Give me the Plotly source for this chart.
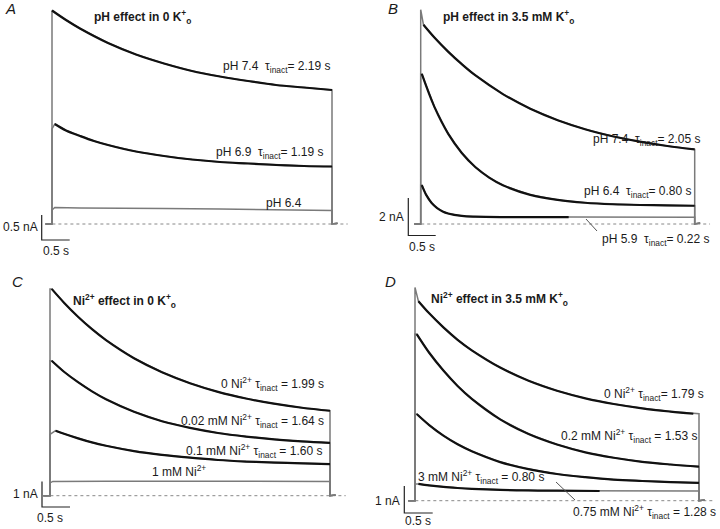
import plotly.graph_objects as go

# ---------------- data (time in s, current in nA) ----------------
SCALE_T = 0.5
SCALE_I = {"A": 0.5, "B": 2, "C": 1, "D": 1}

# Panel A: pH effect in 0 K+o
A_T74 = [0, 0.25, 0.5, 1, 1.5, 2, 2.5, 3, 3.5, 4, 4.5, 5]
A_I74 = [4.27, 4.08, 3.91, 3.62, 3.39, 3.21, 3.06, 2.95, 2.86, 2.78, 2.73, 2.68]
A_T69 = [0.05, 0.25, 0.5, 0.75, 1, 1.5, 2, 2.5, 3, 3.5, 4, 4.5, 5]
A_I69 = [2.0, 1.87, 1.76, 1.66, 1.58, 1.45, 1.36, 1.29, 1.24, 1.21, 1.18, 1.16, 1.15]
A_T64 = [0.05, 0.5, 1, 1.5, 2, 3, 4, 5]
A_I64 = [0.33, 0.32, 0.32, 0.31, 0.31, 0.30, 0.29, 0.27]

# Panel B: pH effect in 3.5 mM K+o
B_PEAK74 = 11.4
B_T74 = [0.05, 0.25, 0.5, 0.75, 1, 1.5, 2, 2.5, 3, 3.5, 4, 4.5, 5]
B_I74 = [10.6, 9.92, 9.17, 8.50, 7.90, 6.91, 6.13, 5.52, 5.04, 4.67, 4.38, 4.15, 3.97]
B_T64 = [0.02, 0.25, 0.5, 0.75, 1, 1.25, 1.5, 2, 2.5, 3, 3.5, 4, 4.5, 5]
B_I64 = [7.98, 6.23, 4.81, 3.78, 3.02, 2.47, 2.06, 1.55, 1.28, 1.13, 1.05, 1.01, 0.99, 0.97]
B_T59 = [0.02, 0.1, 0.2, 0.3, 0.4, 0.5, 0.75, 1, 1.5, 2, 2.7]
B_I59 = [2.07, 1.55, 1.12, 0.85, 0.67, 0.56, 0.43, 0.39, 0.37, 0.37, 0.37]
B_T59_TAIL = [3.5, 5]
B_I59_TAIL = [0.37, 0.36]

# Panel C: Ni2+ effect in 0 K+o
C_T = [0.03, 0.25, 0.5, 0.75, 1, 1.5, 2, 2.5, 3, 3.5, 4, 4.5, 5]
C_I0 = [8.11, 7.57, 7.02, 6.53, 6.10, 5.39, 4.84, 4.41, 4.07, 3.81, 3.61, 3.45, 3.33]
C_I002 = [5.29, 4.86, 4.45, 4.09, 3.78, 3.29, 2.92, 2.66, 2.46, 2.32, 2.21, 2.13, 2.07]
C_T01 = [0.1, 0.25, 0.5, 0.75, 1, 1.5, 2, 2.5, 3, 3.5, 4, 4.5, 5]
C_I01 = [2.55, 2.43, 2.25, 2.09, 1.96, 1.75, 1.60, 1.49, 1.40, 1.34, 1.30, 1.27, 1.24]
C_T1 = [0.05, 1, 2, 3, 4, 5]
C_I1 = [0.56, 0.57, 0.56, 0.56, 0.57, 0.56]

# Panel D: Ni2+ effect in 3.5 mM K+o
D_PEAK0 = 7.9
D_T0 = [0.06, 0.25, 0.5, 0.75, 1, 1.5, 2, 2.5, 3, 3.5, 4, 4.5, 4.9]
D_I0 = [7.39, 6.94, 6.42, 5.96, 5.57, 4.93, 4.44, 4.07, 3.79, 3.58, 3.42, 3.30, 3.22]
D_T = [0.03, 0.25, 0.5, 0.75, 1, 1.5, 2, 2.5, 3, 3.5, 4, 4.5, 5]
D_I02 = [6.17, 5.48, 4.82, 4.25, 3.77, 3.01, 2.47, 2.08, 1.79, 1.59, 1.44, 1.34, 1.26]
D_I075 = [3.21, 2.80, 2.41, 2.09, 1.83, 1.43, 1.17, 0.99, 0.87, 0.78, 0.73, 0.69, 0.66]
D_T3 = [0.06, 0.25, 0.5, 0.75, 1, 1.5, 2, 2.5, 3.25]
D_I3 = [0.62, 0.565, 0.51, 0.47, 0.44, 0.40, 0.38, 0.37, 0.36]
D_T3_TAIL = [4, 5]
D_I3_TAIL = [0.36, 0.36]

# ---------------- layout geometry (pixels) ----------------
W, H = 720, 529
GEOM = {
    "A": dict(t0=52, pps=56, base=224, ppn=50, reg=(0, 360, 0, 264), bar=(41.7, 240)),
    "B": dict(t0=420.7, pps=54.8, base=224, ppn=18.8, reg=(360, 720, 0, 264), bar=(408.3, 235.5)),
    "C": dict(t0=50, pps=56, base=495.7, ppn=25.5, reg=(0, 360, 264, 529), bar=(42, 507)),
    "D": dict(t0=415, pps=56.8, base=500.7, ppn=27, reg=(360, 720, 264, 529), bar=(404.3, 513)),
}
AX = {"A": ("x", "y"), "B": ("x2", "y2"), "C": ("x3", "y3"), "D": ("x4", "y4")}

GRAY = "#7a7a7a"
BLACK = "#111111"
FONT = "Arial, Liberation Sans, sans-serif"

fig = go.Figure()


def add(panel, t, i, color, width, dash=None, shape="linear"):
    xa, ya = AX[panel]
    fig.add_trace(go.Scatter(x=t, y=i, mode="lines", xaxis=xa, yaxis=ya,
                             line=dict(color=color, width=width, dash=dash, shape=shape),
                             hoverinfo="skip", showlegend=False))


def raw(panel, t, i, start=None, tail_t=(), tail_i=()):
    tt = [-0.12, 0, 0] + list(t) + list(tail_t)
    ii = [0, 0, start if start is not None else i[0]] + list(i) + list(tail_i)
    tt += [tt[-1], tt[-1] + 0.1]
    ii += [0, 0.03 * SCALE_I[panel]]
    add(panel, tt, ii, GRAY, 1.5)


def fit(panel, t, i):
    add(panel, t, i, BLACK, 2.2, shape="spline")


for p in "ABCD":
    add(p, [-0.1, 5.28], [0, 0], "#888888", 1, dash="dot")

raw("A", A_T74, A_I74)
raw("A", A_T69, A_I69, start=1.9)
raw("A", A_T64, A_I64, start=0.28)
fit("A", A_T74, A_I74)
fit("A", A_T69, A_I69)

raw("B", B_T74, B_I74, start=B_PEAK74)
raw("B", B_T64, B_I64)
raw("B", B_T59, B_I59, tail_t=B_T59_TAIL, tail_i=B_I59_TAIL)
fit("B", B_T74, B_I74)
fit("B", B_T64, B_I64)
fit("B", B_T59, B_I59)

raw("C", C_T, C_I0)
raw("C", C_T, C_I002)
raw("C", C_T01, C_I01, start=2.4)
raw("C", C_T1, C_I1, start=0.5)
fit("C", C_T, C_I0)
fit("C", C_T, C_I002)
fit("C", C_T01, C_I01)

raw("D", D_T0, D_I0, start=D_PEAK0, tail_t=[5], tail_i=[D_I0[-1]])
raw("D", D_T, D_I02)
raw("D", D_T, D_I075)
raw("D", D_T3, D_I3, tail_t=D_T3_TAIL, tail_i=D_I3_TAIL)
fit("D", D_T0, D_I0)
fit("D", D_T, D_I02)
fit("D", D_T, D_I075)
fit("D", D_T3, D_I3)

for p in "ABCD":
    g = GEOM[p]
    bx, by = g["bar"]
    tb = (bx - g["t0"]) / g["pps"]
    ib = (g["base"] - by) / g["ppn"]
    add(p, [tb, tb, tb + SCALE_T], [ib + SCALE_I[p], ib, ib], "#222222", 1.2)

layout_axes = {}
for n, p in enumerate("ABCD", start=1):
    g = GEOM[p]
    x0, x1, y0, y1 = g["reg"]
    sx = "" if n == 1 else str(n)
    layout_axes["xaxis" + sx] = dict(domain=[x0 / W, x1 / W],
                                     range=[(x0 - g["t0"]) / g["pps"], (x1 - g["t0"]) / g["pps"]],
                                     visible=False, fixedrange=True, anchor="y" + sx)
    layout_axes["yaxis" + sx] = dict(domain=[1 - y1 / H, 1 - y0 / H],
                                     range=[(g["base"] - y1) / g["ppn"], (g["base"] - y0) / g["ppn"]],
                                     visible=False, fixedrange=True, anchor="x" + sx)

TAU = "\u03c4<sub>inact</sub>"
NI = "Ni<sup>2+</sup>"
SP = "\u00a0"
LABELS = [
    ("A", 3, 8, "left", 15, "i"),
    ("B", 386, 8, "left", 15, "i"),
    ("C", 10, 281, "left", 15, "i"),
    ("D", 383, 281, "left", 15, "i"),
    ("<b>pH effect in 0 K<sup>+</sup><sub>o</sub></b>", 92, 17, "left", 12, ""),
    ("<b>pH effect in 3.5 mM K<sup>+</sup><sub>o</sub></b>", 441, 17, "left", 12, ""),
    ("<b>" + NI + " effect in 0 K<sup>+</sup><sub>o</sub></b>", 71, 301, "left", 12, ""),
    ("<b>" + NI + " effect in 3.5 mM K<sup>+</sup><sub>o</sub></b>", 429, 299, "left", 12, ""),
    ("pH 7.4" + SP * 2 + TAU + "= 2.19 s", 333, 67, "right", 12, ""),
    ("pH 6.9" + SP * 2 + TAU + "= 1.19 s", 326, 153, "right", 12, ""),
    ("pH 6.4", 304, 203, "right", 12, ""),
    ("pH 7.4" + SP * 2 + TAU + "= 2.05 s", 703, 140, "right", 12, ""),
    ("pH 6.4" + SP * 2 + TAU + "= 0.80 s", 694, 192, "right", 12, ""),
    ("pH 5.9" + SP * 2 + TAU + "= 0.22 s", 712, 240, "right", 12, ""),
    ("0 " + NI + " " + TAU + " = 1.99 s", 326, 384, "right", 12, ""),
    ("0.02 mM " + NI + " " + TAU + " = 1.64 s", 326, 421, "right", 12, ""),
    ("0.1 mM " + NI + " " + TAU + " = 1.60 s", 324, 451, "right", 12, ""),
    ("1 mM " + NI, 150, 471, "left", 12, ""),
    ("0 " + NI + " " + TAU + "= 1.79 s", 706, 394, "right", 12, ""),
    ("0.2 mM " + NI + " " + TAU + " = 1.53 s", 699, 436, "right", 12, ""),
    ("3 mM " + NI + " " + TAU + " = 0.80 s", 416, 477, "left", 12, ""),
    ("0.75 mM " + NI + " " + TAU + " = 1.28 s", 718, 512, "right", 12, ""),
    ("0.5 nA", 40, 227, "right", 12, ""),
    ("0.5 s", 41, 251, "left", 12, ""),
    ("2 nA", 406, 217, "right", 12, ""),
    ("0.5 s", 407, 247, "left", 12, ""),
    ("1 nA", 40, 494, "right", 12, ""),
    ("0.5 s", 35, 518, "left", 12, ""),
    ("1 nA", 402, 501, "right", 12, ""),
    ("0.5 s", 403, 521, "left", 12, ""),
]
annotations = []
for text, px, py, anc, size, style in LABELS:
    if style == "i":
        text = "<i>" + text + "</i>"
    annotations.append(dict(text=text, x=px / W, y=1 - py / H, xref="paper", yref="paper",
                            xanchor=anc, yanchor="middle", showarrow=False,
                            font=dict(family=FONT, size=size, color="#1a1a1a")))

LEADERS = [((586, 219), (597, 231)), ((556, 482), (575, 500))]
shapes = [dict(type="line", xref="paper", yref="paper", x0=a[0] / W, y0=1 - a[1] / H,
               x1=b[0] / W, y1=1 - b[1] / H, line=dict(color="#555555", width=1))
          for a, b in LEADERS]

fig.update_layout(width=W, height=H, margin=dict(l=0, r=0, t=0, b=0),
                  paper_bgcolor="white", plot_bgcolor="rgba(0,0,0,0)",
                  annotations=annotations, shapes=shapes, **layout_axes)
fig.write_html("out.html", config={"displayModeBar": False, "staticPlot": True},
               post_script="document.body.style.margin='0';document.body.style.overflow='hidden';")
